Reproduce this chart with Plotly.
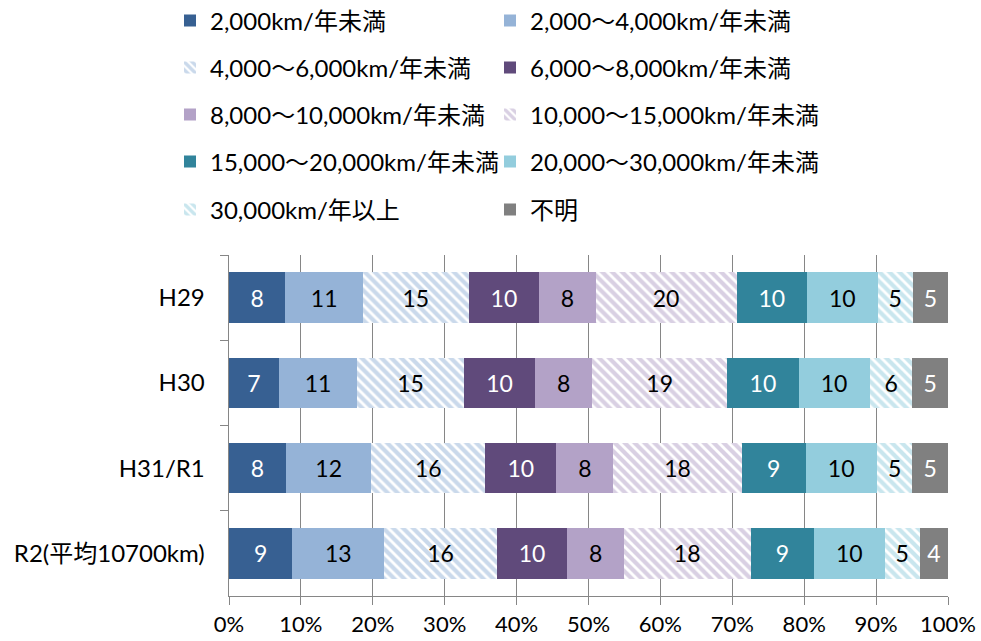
import plotly.graph_objects as go

categories = ["H29", "H30", "H31/R1", "R2(平均10700km)"]

series_names = [
    "2,000km/年未満",
    "2,000～4,000km/年未満",
    "4,000～6,000km/年未満",
    "6,000～8,000km/年未満",
    "8,000～10,000km/年未満",
    "10,000～15,000km/年未満",
    "15,000～20,000km/年未満",
    "20,000～30,000km/年未満",
    "30,000km/年以上",
    "不明",
]

# share (%) for each distance band, one list per year: H29, H30, H31/R1, R2
band_lt2000 = [8, 7, 8, 9]
band_2000_4000 = [11, 11, 12, 13]
band_4000_6000 = [15, 15, 16, 16]
band_6000_8000 = [10, 10, 10, 10]
band_8000_10000 = [8, 8, 8, 8]
band_10000_15000 = [20, 19, 18, 18]
band_15000_20000 = [10, 10, 9, 9]
band_20000_30000 = [10, 10, 10, 10]
band_ge30000 = [5, 6, 5, 5]
band_unknown = [5, 5, 5, 4]

series_values = [
    band_lt2000, band_2000_4000, band_4000_6000, band_6000_8000,
    band_8000_10000, band_10000_15000, band_15000_20000,
    band_20000_30000, band_ge30000, band_unknown,
]

colors = ["#376092", "#95B3D7", "#95B3D7", "#604A7B", "#B3A2C7",
          "#B3A2C7", "#31849B", "#93CDDD", "#93CDDD", "#808080"]
hatched = [False, False, True, False, False, True, False, False, True, False]
text_colors = ["white", "black", "black", "white", "black",
               "black", "white", "black", "black", "white"]

FONT = "Lato, 'Noto Sans CJK JP', sans-serif"
W, H = 981, 641

# legend positions (pixels, left edge of legend box / row centre)
col_x = [170, 490]
row_y = [21, 68, 115, 162, 210]

fig = go.Figure()
layout_legends = {}
for i, (name, vals) in enumerate(zip(series_names, series_values)):
    legend_id = "legend" if i == 0 else f"legend{i + 1}"
    if hatched[i]:
        marker = dict(color="white",
                      pattern=dict(shape="\\", fgcolor=colors[i], bgcolor="white",
                                   size=7, solidity=0.6, fillmode="overlay"),
                      line=dict(width=0))
    else:
        marker = dict(color=colors[i], line=dict(width=0))
    fig.add_trace(go.Bar(
        y=categories, x=vals, name=name, orientation="h",
        marker=marker,
        text=[str(v) for v in vals],
        textposition="inside", insidetextanchor="middle",
        constraintext="none",
        textfont=dict(color=text_colors[i], size=23, family=FONT),
        hoverinfo="name+x",
        legend=legend_id,
        showlegend=True,
    ))
    r, c = divmod(i, 2)
    layout_legends[legend_id] = dict(
        xref="container", yref="container",
        x=col_x[c] / W, y=1 - row_y[r] / H,
        xanchor="left", yanchor="middle",
        bgcolor="rgba(0,0,0,0)", borderwidth=0,
        font=dict(family=FONT, size=24, color="black"),
        visible=True,
    )

fig.update_layout(
    width=W, height=H, showlegend=True,
    barmode="stack", barnorm="percent", bargap=0.41,
    margin=dict(l=229, r=33, t=255, b=45, autoexpand=False),
    plot_bgcolor="white", paper_bgcolor="white",
    font=dict(family=FONT, size=23, color="black"),
    uniformtext=dict(minsize=23, mode="show"),
    **layout_legends,
)

fig.update_xaxes(
    range=[0, 100], dtick=10, ticksuffix="%",
    showgrid=True, gridcolor="#868686", gridwidth=1,
    showline=True, linecolor="#868686", linewidth=1,
    ticks="outside", ticklen=8, tickcolor="#868686",
    tickfont=dict(size=22, color="black", family=FONT),
    ticklabelstandoff=1,
    zeroline=False, fixedrange=True, automargin=False,
)
fig.update_yaxes(
    autorange="reversed", type="category",
    showline=True, linecolor="#868686", linewidth=1,
    ticks="outside", ticklen=8, tickcolor="#868686", tickson="boundaries",
    tickfont=dict(size=24, color="black", family=FONT),
    ticksuffix="   ",
    showgrid=False, fixedrange=True, automargin=False,
)

fig.write_html("out.html")
